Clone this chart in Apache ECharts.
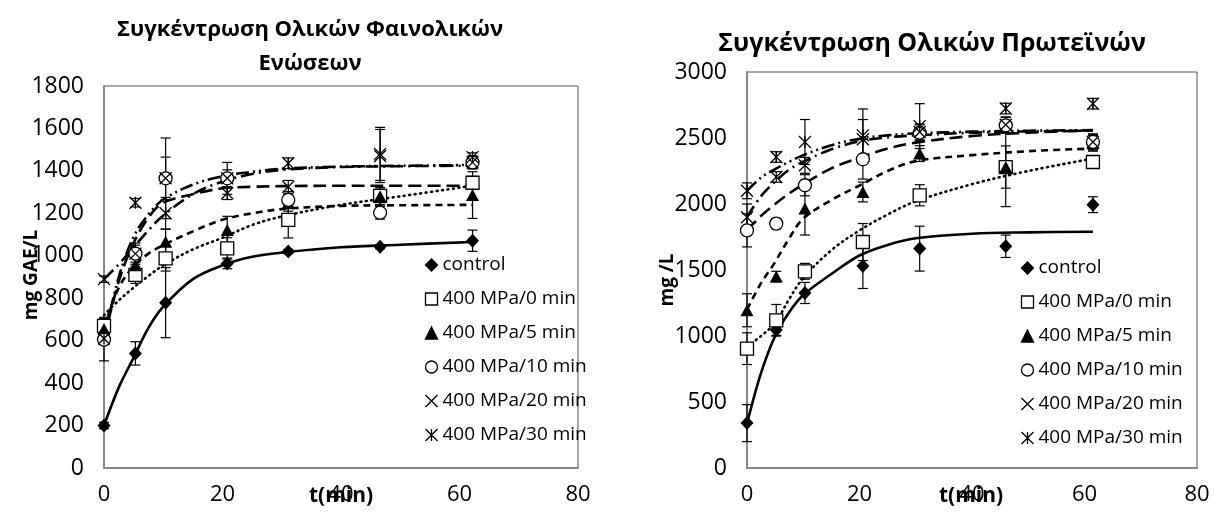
<!DOCTYPE html>
<html><head><meta charset="utf-8">
<script src="https://cdn.jsdelivr.net/npm/echarts@6/dist/echarts.min.js"></script>
<style>html,body{margin:0;padding:0;background:#fff}#c{width:1224px;height:516px}</style>
</head><body><div id="c"></div>
<script>
// ---------- data ----------
const seriesNames = ['control', '400 MPa/0 min', '400 MPa/5 min', '400 MPa/10 min', '400 MPa/20 min', '400 MPa/30 min'];
const xTickMax = 80, xTickStep = 20;

// left chart: total phenolics (mg GAE/L)
const leftTimes   = [0, 5.3, 10.4, 20.8, 31.1, 46.6, 62.2];
const leftControl = [200, 540, 779, 964, 1020, 1043, 1071];
const left0min    = [670, 910, 988, 1035, 1169, 1282, 1344];
const left5min    = [655, 955, 1066, 1121, 1250, 1280, 1286];
const left10min   = [605, 1010, 1365, 1365, 1263, 1203, 1440];
const left20min   = [890, 1010, 1365, 1365, 1325, 1470, 1440];
const left30min   = [610, 1250, 1200, 1295, 1436, 1480, 1465];
const leftErrControl = [15, 55, 165, 25, 10, 10, 50];
const leftErr0min    = [40, 40, 60, 50, 85, 40, 30];
const leftErr5min    = [40, 40, 60, 65, 40, 40, 110];
const leftErr10min   = [100, 50, 190, 75, 40, 30, 30];
const leftErr20min   = [15, 40, 100, 40, 30, 125, 30];
const leftErr30min   = [20, 20, 75, 30, 25, 125, 20];
// trend curves
const leftCurveX     = [0, 2.5, 5, 7.5, 10, 15, 20, 25, 30, 40, 50, 62.2];
const leftFitControl = [200, 380, 520, 660, 760, 890, 955, 995, 1015, 1040, 1052, 1065];
const leftFit0min    = [720, 790, 850, 905, 955, 1030, 1085, 1145, 1185, 1240, 1280, 1330];
const leftFit5min    = [660, 850, 950, 1010, 1050, 1115, 1170, 1200, 1220, 1235, 1238, 1240];
const leftFit10min   = [605, 880, 1060, 1180, 1250, 1290, 1318, 1325, 1328, 1330, 1330, 1330];
const leftFit20min   = [890, 960, 1040, 1120, 1190, 1290, 1350, 1385, 1405, 1418, 1422, 1425];
const leftFit30min   = [610, 900, 1090, 1195, 1265, 1335, 1375, 1395, 1410, 1420, 1424, 1428];
const leftYMax = 1800, leftYStep = 200;

// right chart: total proteins (mg/L)
const rightTimes   = [0, 5.2, 10.3, 20.6, 30.7, 46, 61.5];
const rightControl = [340, 1045, 1326, 1530, 1662, 1680, 1995];
const right0min    = [904, 1119, 1490, 1712, 2066, 2280, 2318];
const right5min    = [1195, 1450, 1965, 2091, 2382, 2280, 2460];
const right10min   = [1800, 1851, 2142, 2339, 2540, 2596, 2470];
const right20min   = [1900, 2205, 2293, 2490, 2546, 2600, 2470];
const right30min   = [2100, 2356, 2470, 2520, 2590, 2723, 2760];
const rightErrControl = [140, 40, 80, 170, 170, 85, 60];
const rightErr0min    = [120, 120, 60, 140, 80, 160, 40];
const rightErr5min    = [125, 40, 200, 75, 60, 300, 60];
const rightErr10min   = [125, 40, 80, 150, 60, 60, 60];
const rightErr20min   = [100, 40, 60, 150, 60, 60, 60];
const rightErr30min   = [60, 40, 170, 200, 170, 40, 40];
const rightCurveX     = [0, 2.5, 5, 7.5, 10, 15, 20, 25, 30, 40, 50, 61.5];
const rightFitControl = [336, 720, 1000, 1180, 1310, 1470, 1610, 1690, 1740, 1775, 1785, 1790];
const rightFit0min    = [920, 1000, 1100, 1280, 1440, 1650, 1800, 1920, 2020, 2150, 2250, 2344];
const rightFit5min    = [1200, 1400, 1560, 1740, 1890, 2030, 2140, 2250, 2325, 2370, 2400, 2420];
const rightFit10min   = [1800, 1910, 2000, 2080, 2150, 2270, 2350, 2420, 2465, 2515, 2540, 2558];
const rightFit20min   = [1900, 2060, 2170, 2260, 2320, 2415, 2475, 2505, 2520, 2540, 2550, 2555];
const rightFit30min   = [2100, 2200, 2265, 2320, 2370, 2445, 2495, 2520, 2535, 2548, 2555, 2560];
const rightYMax = 3000, rightYStep = 500;

// ---------- styles ----------
const FONT = 'Open Sans';
const symbols = [
  { symbol: 'diamond', size: [13, 14], fill: '#000' },
  { symbol: 'rect', size: 13, fill: '#fff' },
  { symbol: 'triangle', size: [13, 12], fill: '#000' },
  { symbol: 'circle', size: 13, fill: '#fff' },
  { symbol: 'path://M0,0L10,10M10,0L0,10', size: 12, fill: 'none' },
  { symbol: 'path://M0,0L10,10M10,0L0,10M5,0L5,10', size: 12, fill: 'none' }
];
const dashes = ['solid', [1, 4.5], [7, 5], [13, 6], [13, 5, 2, 5], [13, 4, 2, 4, 2, 4]];

function zip(xs, ys) { return xs.map((x, i) => [x, ys[i]]); }

function errRender(params, api) {
  const x = api.value(0), y = api.value(1), e = api.value(2);
  const p1 = api.coord([x, y + e]), p2 = api.coord([x, y - e]);
  const w = 5, st = { stroke: '#000', lineWidth: 1.2 };
  return { type: 'group', children: [
    { type: 'line', shape: { x1: p1[0], y1: p1[1], x2: p2[0], y2: p2[1] }, style: st },
    { type: 'line', shape: { x1: p1[0] - w, y1: p1[1], x2: p1[0] + w, y2: p1[1] }, style: st },
    { type: 'line', shape: { x1: p2[0] - w, y1: p2[1], x2: p2[0] + w, y2: p2[1] }, style: st }
  ]};
}

function buildSeries(idx, times, vals, errs, curveX, fits) {
  const out = [];
  fits.forEach((f, i) => {
    out.push({
      name: 'fit' + idx + '_' + i, type: 'line', xAxisIndex: idx, yAxisIndex: idx,
      data: zip(curveX, f), smooth: 0.35, showSymbol: false, silent: true,
      lineStyle: { color: '#000', width: 2.6, type: dashes[i], cap: i === 1 ? 'round' : 'butt' }, z: 2
    });
  });
  vals.forEach((v, i) => {
    out.push({
      name: 'err' + idx + '_' + i, type: 'custom', xAxisIndex: idx, yAxisIndex: idx,
      data: times.map((t, k) => [t, v[k], errs[i][k]]), encode: { x: 0, y: 1 },
      renderItem: errRender, silent: true, z: 3
    });
  });
  vals.forEach((v, i) => {
    const s = symbols[i];
    out.push({
      name: seriesNames[i], type: 'scatter', xAxisIndex: idx, yAxisIndex: idx,
      data: zip(times, v), symbol: s.symbol, symbolSize: s.size,
      itemStyle: { color: s.fill, borderColor: '#000', borderWidth: (i === 0 || i === 2) ? 0 : 1.3, opacity: 1 },
      z: 4
    });
  });
  return out;
}

const series = [].concat(
  buildSeries(0, leftTimes, [leftControl, left0min, left5min, left10min, left20min, left30min],
    [leftErrControl, leftErr0min, leftErr5min, leftErr10min, leftErr20min, leftErr30min],
    leftCurveX, [leftFitControl, leftFit0min, leftFit5min, leftFit10min, leftFit20min, leftFit30min]),
  buildSeries(1, rightTimes, [rightControl, right0min, right5min, right10min, right20min, right30min],
    [rightErrControl, rightErr0min, rightErr5min, rightErr10min, rightErr20min, rightErr30min],
    rightCurveX, [rightFitControl, rightFit0min, rightFit5min, rightFit10min, rightFit20min, rightFit30min])
);

const grids = [
  { left: 104, top: 86, width: 474, height: 382, show: true, borderColor: '#505050', borderWidth: 1, backgroundColor: 'transparent' },
  { left: 747, top: 72, width: 450, height: 396, show: true, borderColor: '#505050', borderWidth: 1, backgroundColor: 'transparent' }
];
function xAx(i) {
  return { type: 'value', gridIndex: i, min: 0, max: xTickMax, interval: xTickStep,
    axisLine: { show: true, onZero: false, lineStyle: { color: '#868686', width: 2 } },
    axisTick: { show: false }, splitLine: { show: false },
    axisLabel: { color: '#000', fontFamily: FONT, fontSize: 22, margin: 16, formatter: v => String(v) } };
}
function yAx(i, max, step) {
  return { type: 'value', gridIndex: i, min: 0, max: max, interval: step,
    axisLine: { show: true, onZero: false, lineStyle: { color: '#868686', width: 2 } },
    axisTick: { show: false }, splitLine: { show: false },
    axisLabel: { color: '#000', fontFamily: FONT, fontSize: 23, margin: 20, formatter: v => String(v) } };
}
function legend(left, top) {
  return { show: true, orient: 'vertical', left: left, top: top, data: seriesNames, padding: 0,
    itemWidth: 12, itemHeight: 12, itemGap: 14, itemStyle: { borderWidth: 1.3, borderColor: '#000' },
    textStyle: { color: '#000', fontFamily: FONT, fontSize: 19, lineHeight: 20 }, selectedMode: false };
}
const txt = (x, y, text, size, rot) => ({ type: 'text', x: x, y: y, rotation: rot || 0,
  style: { text: text, fill: '#000', font: 'bold ' + size + 'px "' + FONT + '"', textAlign: 'center', textVerticalAlign: 'middle' } });

const option = {
  animation: false,
  backgroundColor: '#fff',
  grid: grids,
  xAxis: [xAx(0), xAx(1)],
  yAxis: [yAx(0, leftYMax, leftYStep), yAx(1, rightYMax, rightYStep)],
  legend: [legend(423, 255), legend(1019, 258)],
  series: series,
  graphic: [
    txt(310, 30, 'Συγκέντρωση Ολικών Φαινολικών', 22),
    txt(310, 64, 'Ενώσεων', 22),
    txt(932, 44, 'Συγκέντρωση Ολικών Πρωτεϊνών', 25),
    txt(32, 275, 'mg GAE/L', 19, Math.PI / 2),
    txt(668, 280, 'mg /L', 19, Math.PI / 2),
    txt(341, 496, 't(min)', 21),
    txt(971, 496, 't(min)', 21)
  ]
};
const chart = echarts.init(document.getElementById('c'), null, { renderer: 'canvas' });
chart.setOption(option);
</script></body></html>
